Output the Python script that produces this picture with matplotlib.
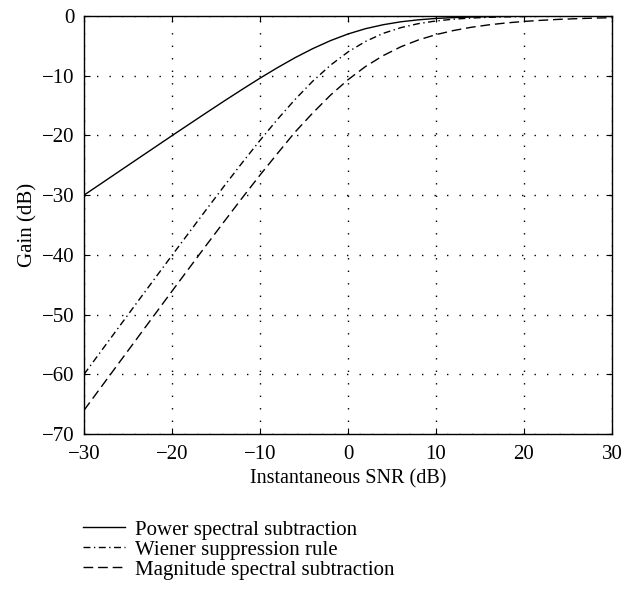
import numpy as np
import matplotlib
matplotlib.use("Agg")
import matplotlib.pyplot as plt
from matplotlib.lines import Line2D

# instantaneous SNR (dB), sampled every 2 dB
snr_db = list(range(-30, 31, 2))

# gain curves (dB)
power_gain = [-30.00, -28.01, -26.01, -24.02, -22.03, -20.04, -18.07, -16.11, -14.17, -12.27,
              -10.41, -8.64, -6.97, -5.46, -4.13, -3.01, -2.12, -1.46, -0.97, -0.64,
              -0.41, -0.27, -0.17, -0.11, -0.07, -0.04, -0.03, -0.02, -0.01, -0.01, 0.0]
wiener_gain = [-60.01, -56.01, -52.02, -48.03, -44.05, -40.09, -36.14, -32.22, -28.34, -24.53,
               -20.83, -17.28, -13.95, -10.91, -8.25, -6.02, -4.25, -2.91, -1.95, -1.28,
               -0.83, -0.53, -0.34, -0.22, -0.14, -0.09, -0.05, -0.03, -0.02, -0.01, -0.01]
magnitude_gain = [-66.03, -62.03, -58.04, -54.05, -50.06, -46.08, -42.12, -38.18, -34.28, -30.42,
                  -26.64, -22.99, -19.41, -16.23, -13.27, -10.67, -8.45, -6.63, -5.16, -4.01,
                  -3.12, -2.43, -1.89, -1.48, -1.16, -0.91, -0.72, -0.56, -0.45, -0.35, -0.28]

labels = ["Power spectral subtraction", "Wiener suppression rule", "Magnitude spectral subtraction"]

plt.rcParams['font.family'] = ['Liberation Serif', 'DejaVu Serif']
plt.rcParams['font.size'] = 15

dashdot = (0, (5, 2.5, 1, 2.5))
dashed = (0, (7, 3.5))

fig = plt.figure(figsize=(6.42, 5.90), dpi=100)
ax = fig.add_axes([84 / 642, 1 - 434 / 590, 528 / 642, 418 / 590])

ax.plot(snr_db, power_gain, color='black', lw=1.0, ls='-')
ax.plot(snr_db, wiener_gain, color='black', lw=1.0, ls=dashdot)
ax.plot(snr_db, magnitude_gain, color='black', lw=1.0, ls=dashed)

ax.set_xlim(-30, 30)
ax.set_ylim(-70, 0)
ax.set_xticks(np.arange(-30, 31, 10))
ax.set_yticks(np.arange(-70, 1, 10))
ax.set_xticklabels(['\u221230', '\u221220', '\u221210', '0', '10', '20', '30'])
ax.set_yticklabels(['\u221270', '\u221260', '\u221250', '\u221240', '\u221230', '\u221220', '\u221210', '0'])
ax.grid(True, color='black', ls=(0, (1, 8)), lw=1.0)
ax.tick_params(direction='in', top=True, right=True, length=4, width=0.8)
ax.tick_params(axis='x', pad=8)
ax.tick_params(axis='y', pad=7)
for s in ax.spines.values():
    s.set_linewidth(1.0)

ax.set_xlabel('Instantaneous SNR (dB)', labelpad=4, fontsize=14.5)
ax.set_ylabel('Gain (dB)', labelpad=3)

handles = [
    Line2D([], [], color='black', lw=1.0, ls='-'),
    Line2D([], [], color='black', lw=1.0, ls=dashdot),
    Line2D([], [], color='black', lw=1.0, ls=dashed),
]
fig.legend(handles, labels, loc='upper left', bbox_to_anchor=(83 / 642, 1 - 520 / 590),
           frameon=False, handlelength=2.0, handletextpad=0.5, labelspacing=0.02,
           borderpad=0, borderaxespad=0, fontsize=15)

fig.savefig('out.png', dpi=100)
